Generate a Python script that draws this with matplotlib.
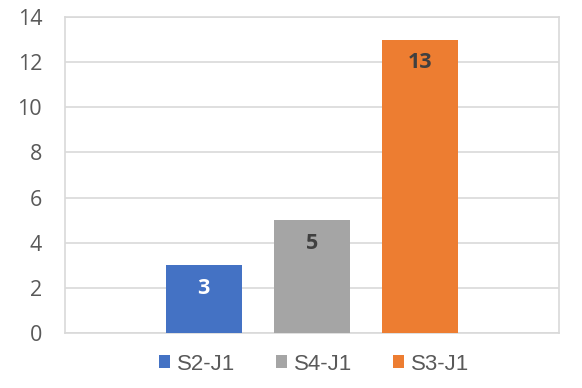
import matplotlib.pyplot as plt
from matplotlib.patches import Patch

series = ['S2-J1', 'S4-J1', 'S3-J1']
values = [3, 5, 13]
colors = ['#4472C4', '#A5A5A5', '#ED7D31']
label_colors = ['white', '#404040', '#404040']
positions = [-1, 0, 1]

fig = plt.figure(figsize=(5.82, 3.88), dpi=100)
ax = fig.add_axes([65 / 582, 1 - 333 / 388, 494 / 582, 316 / 388])

bars = ax.bar(positions, values, width=0.7, color=colors, zorder=3)
for b, v, c in zip(bars, values, label_colors):
    ax.annotate(str(v), (b.get_x() + b.get_width() / 2, v), xytext=(0, -23),
                textcoords='offset pixels',
                ha='center', va='center', fontsize=15.5, fontweight='bold',
                color=c, family='Open Sans')

ax.set_xlim(-2.28, 2.28)
ax.set_ylim(0, 14)
ax.set_yticks(range(0, 15, 2))
ax.set_xticks([])
ax.yaxis.grid(True, color='#D9D9D9', linewidth=1.2, zorder=0)
for s in ax.spines.values():
    s.set_color('#D9D9D9')
    s.set_linewidth(1.2)
ax.tick_params(axis='y', length=0, pad=16.5, labelsize=15.5, labelcolor='#595959')
for t in ax.get_yticklabels():
    t.set_family('Open Sans')

handles = [Patch(facecolor=c, label=s) for s, c in zip(series, colors)]
fig.legend(handles=handles, loc='center', bbox_to_anchor=(314 / 582, 1 - 364 / 388),
           ncol=3, frameon=False, handlelength=0.5, handleheight=0.5,
           handletextpad=0.3, columnspacing=1.85,
           prop={'family': 'Liberation Sans', 'size': 16}, labelcolor='#595959')

fig.savefig('out.png', dpi=100)
